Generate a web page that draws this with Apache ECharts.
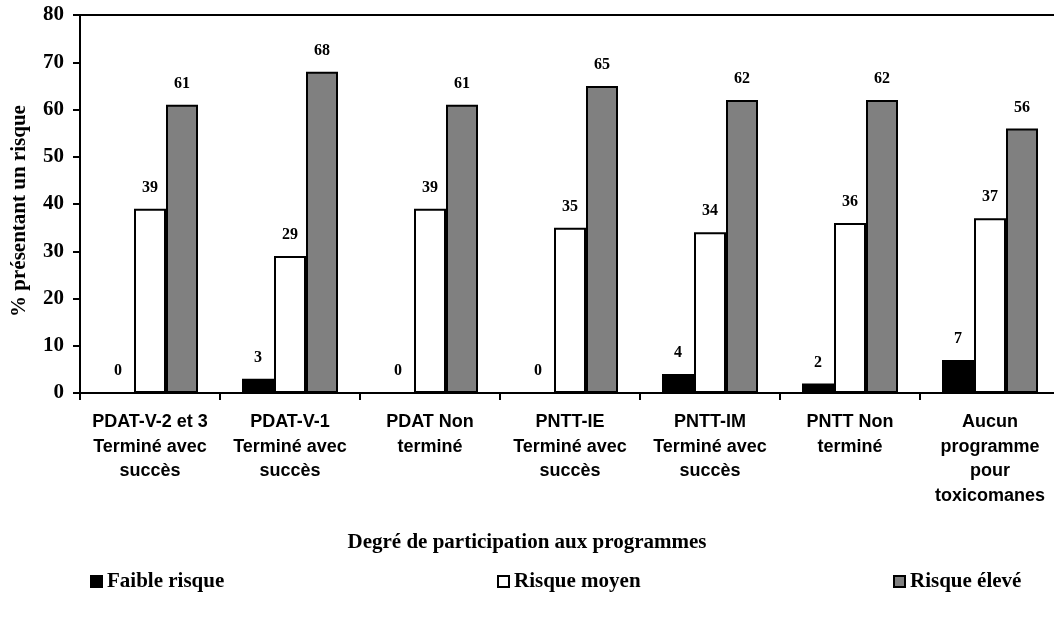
<!DOCTYPE html>
<html lang="fr">
<head>
<meta charset="utf-8">
<title>Degré de participation aux programmes</title>
<script src="https://cdn.jsdelivr.net/npm/echarts@6/dist/echarts.min.js"></script>
<style>
  html, body { margin: 0; padding: 0; background: #ffffff; }
  #chart { width: 1054px; height: 620px; }
</style>
</head>
<body>
<div id="chart"></div>
<script>
// Programme categories (x axis)
const categories = [
  'PDAT-V-2 et 3\nTerminé avec\nsuccès',
  'PDAT-V-1\nTerminé avec\nsuccès',
  'PDAT Non\nterminé',
  'PNTT-IE\nTerminé avec\nsuccès',
  'PNTT-IM\nTerminé avec\nsuccès',
  'PNTT Non\nterminé',
  'Aucun\nprogramme\npour\ntoxicomanes'
];

// Percentage presenting each level of risk
const faibleRisque = [0, 3, 0, 0, 4, 2, 7];
const risqueMoyen  = [39, 29, 39, 35, 34, 36, 37];
const risqueEleve  = [61, 68, 61, 65, 62, 62, 56];

const seriesNames = ['Faible risque', 'Risque moyen', 'Risque élevé'];

const SERIF = '"Liberation Serif", "Times New Roman", serif';
const SANS = '"Liberation Sans", Arial, sans-serif';

const chart = echarts.init(document.getElementById('chart'), null, { renderer: 'canvas' });

const valueLabel = {
  show: true,
  position: 'top',
  distance: 13,
  color: '#000',
  fontFamily: SERIF,
  fontWeight: 'bold',
  fontSize: 16
};

function barSeries(name, data, fill) {
  return {
    name: name,
    type: 'bar',
    data: data,
    barWidth: 32,
    barGap: '0%',
    itemStyle: { color: fill, borderColor: '#000', borderWidth: 2 },
    label: valueLabel,
    emphasis: { disabled: true }
  };
}

function legendAt(left, name) {
  return {
    left: left,
    top: 571,
    padding: 0,
    orient: 'horizontal',
    data: [name],
    icon: 'rect',
    itemWidth: 11,
    itemHeight: 11,
    selectedMode: false,
    textStyle: { color: '#000', fontFamily: SERIF, fontWeight: 'bold', fontSize: 21 }
  };
}

const option = {
  animation: false,
  backgroundColor: '#ffffff',
  title: {
    text: 'Degré de participation aux programmes',
    left: 'center',
    top: 527,
    textStyle: { color: '#000', fontFamily: SERIF, fontWeight: 'bold', fontSize: 21 }
  },
  legend: [
    legendAt(90, seriesNames[0]),
    legendAt(497, seriesNames[1]),
    legendAt(893, seriesNames[2])
  ],
  grid: {
    left: 80,
    right: -6,
    top: 15,
    bottom: 227,
    containLabel: false,
    outerBoundsMode: 'none'
  },
  xAxis: [
    {
      type: 'category',
      data: categories,
      position: 'bottom',
      axisLine: { show: true, lineStyle: { color: '#000', width: 2 } },
      axisTick: { show: true, length: 7, lineStyle: { color: '#000', width: 2 } },
      axisLabel: {
        interval: 0,
        margin: 17,
        color: '#000',
        fontFamily: SANS,
        fontWeight: 'bold',
        fontSize: 18,
        lineHeight: 24.5,
        align: 'center'
      },
      splitLine: { show: false }
    },
    {
      // closing line along the top of the plot
      type: 'category',
      data: categories,
      position: 'top',
      axisLine: { show: true, lineStyle: { color: '#000', width: 2 } },
      axisTick: { show: false },
      axisLabel: { show: false },
      splitLine: { show: false }
    }
  ],
  yAxis: {
    type: 'value',
    min: 0,
    max: 80,
    interval: 10,
    name: '% présentant un risque',
    nameLocation: 'middle',
    nameGap: 50,
    nameRotate: 90,
    nameTextStyle: {
      color: '#000',
      fontFamily: SERIF,
      fontWeight: 'bold',
      fontSize: 21,
      padding: [0, 14, 0, 0]
    },
    axisLine: { show: true, lineStyle: { color: '#000', width: 2 } },
    axisTick: { show: true, length: 7, lineStyle: { color: '#000', width: 2 } },
    axisLabel: {
      margin: 16,
      color: '#000',
      fontFamily: SERIF,
      fontWeight: 'bold',
      fontSize: 21
    },
    splitLine: { show: false }
  },
  series: [
    barSeries(seriesNames[0], faibleRisque, '#000000'),
    barSeries(seriesNames[1], risqueMoyen, '#ffffff'),
    barSeries(seriesNames[2], risqueEleve, '#808080')
  ]
};

chart.setOption(option);
</script>
</body>
</html>
